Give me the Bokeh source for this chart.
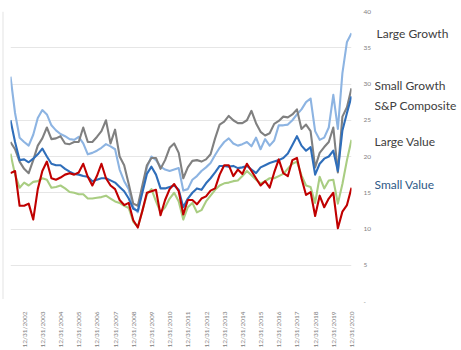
from bokeh.plotting import figure
from bokeh.layouts import row
from bokeh.models import FixedTicker, Range1d, ColumnDataSource
from bokeh.core.properties import value
from bokeh.embed import file_html
from bokeh.resources import INLINE

# quarterly observations, 3/31/2002 .. 12/31/2020
tick_labels = ["12/31/2002", "12/31/2003", "12/31/2004", "12/31/2005", "12/31/2006",
               "12/31/2007", "12/31/2008", "12/31/2009", "12/31/2010", "12/31/2011",
               "12/31/2012", "12/31/2013", "12/31/2014", "12/31/2015", "12/31/2016",
               "12/31/2017", "12/31/2018", "12/31/2019", "12/31/2020"]

large_growth = [31, 26, 22.6, 22, 21.5, 23, 25.3, 26.4, 25.8, 24.3, 23.6, 23.1, 22.8, 22.4, 22.3, 22.7,
                21.8, 20.3, 20.5, 20.8, 21.2, 21.7, 21.4, 21, 18.2, 16.6, 15.5, 13, 12.3, 15.5, 18.5, 20,
                19.5, 18.6, 18.2, 18, 18.2, 18.4, 15.3, 15.5, 16.8, 17.3, 18, 18.5, 19.1, 20.2, 21.2, 22,
                22.5, 21.8, 21.5, 21.7, 22, 21.4, 22.6, 21, 22.4, 21.5, 22.2, 24.3, 24.3, 24.4, 25, 25.8,
                26.5, 27.5, 28, 23.5, 22.3, 22.6, 24, 28.5, 23.8, 31.5, 35.8, 37]

small_growth = [22, 21, 19.3, 18.3, 17.7, 19.5, 21.5, 22.5, 24, 22.4, 22.5, 22.8, 21.8, 21.7, 22, 22,
                24, 22, 22, 22.7, 23.5, 25, 21.8, 23.7, 20, 18.8, 16.2, 13.5, 13.2, 16, 18.8, 19.8,
                19.8, 18.3, 19.5, 21.2, 21.8, 20.5, 17, 18.5, 19.4, 19.5, 19.3, 19.6, 20.3, 22.5, 24.4, 24.8,
                25.6, 25, 24.6, 24.6, 25, 26.3, 24.6, 23.4, 22.9, 23.2, 24.5, 24.9, 25.5, 25.4, 25.8, 26.5,
                23.8, 24.4, 23.5, 18.5, 20.5, 21.3, 22, 24, 17.8, 25.5, 26.8, 29.4]

sp_composite = [25, 22, 19.5, 19.6, 19.2, 19.7, 20.3, 21.1, 20, 19, 18.8, 18.8, 18.3, 17.9, 17.6, 17.5,
                17.3, 17.2, 16.6, 16.8, 17, 17, 16.7, 16.4, 15.8, 15.2, 14.2, 12.8, 12.5, 15, 17.6, 18.6,
                17.5, 15.6, 15.6, 15.8, 16, 15.4, 13, 14.2, 15, 15.6, 15.4, 16.3, 17, 17.8, 18.7, 18.7,
                18.6, 18.7, 18.4, 18.5, 18.7, 18.2, 17.7, 18.5, 18.8, 19.1, 19.3, 19.5, 19.8, 20.4, 21.6, 22.8,
                21.5, 20.8, 21.3, 17.5, 19, 19.7, 20, 20.8, 18, 23.6, 26, 28.3]

large_value = [20.4, 17.5, 15.7, 16.4, 16, 16.5, 16.6, 17, 16.8, 15.7, 15.8, 16, 15.6, 15.1, 15, 14.8,
               14.8, 14.2, 14.2, 14.3, 14.4, 14.6, 14.2, 13.8, 13.6, 13.2, 12.9, 11, 10.3, 12.5, 14.8, 15.5,
               13.8, 12.3, 13, 14.2, 15, 13.8, 11.3, 13, 13.6, 12.3, 12.6, 13.8, 14.6, 15.4, 16, 16.3,
               16.4, 16.6, 16.7, 17.3, 18, 17.4, 16.8, 16.3, 16.6, 17, 17, 17.3, 17.6, 18.3, 19, 19.3,
               17.4, 16, 15.8, 13.6, 17.2, 15.6, 16.7, 16.8, 13.5, 16.2, 19.5, 22.3]

small_value = [17.7, 18, 13.2, 13.2, 13.5, 11.3, 15.5, 18, 19.3, 17, 16.8, 17.1, 17.5, 17.7, 17.5, 17.8,
               19, 17.2, 16, 17.3, 19, 17, 16, 15.5, 14, 13.3, 13.6, 11.2, 10.2, 12.5, 15, 15.2,
               15.4, 11.9, 14, 15.5, 16.2, 15.2, 12, 14, 14, 13.4, 14.2, 14.5, 15.3, 15.6, 17.5, 18.8,
               18.8, 17.3, 18.2, 17.6, 19, 18, 17, 16, 16.6, 15.7, 17.8, 19.6, 17.7, 17.3, 19.5, 19.8,
               17, 14.7, 15.1, 11.8, 14.6, 13, 14.2, 15, 10.1, 12.4, 13.3, 15.7]

series_names = ["Large Growth", "Small Growth", "S&P Composite", "Large Value", "Small Value"]
label_y = [36.9, 29.8, 27.1, 22.1, 16.2]

y_ticks = [0, 5, 10, 15, 20, 25, 30, 35, 40]

n = len(large_growth)
idx = list(range(n))
src = ColumnDataSource(dict(x=idx, lg=large_growth, sg=small_growth, sp=sp_composite,
                            lv=large_value, sv=small_value))

# thin border strip on the left
p0 = figure(width=10, height=350, output_backend="svg", toolbar_location=None,
            x_range=Range1d(0, 10), y_range=Range1d(0, 350),
            min_border_left=0, min_border_right=0, min_border_top=0, min_border_bottom=0)
p0.axis.visible = False
p0.grid.visible = False
p0.outline_line_color = None
p0.segment(x0=[2.5], y0=[3], x1=[2.5], y1=[350], line_color="#e3e3e3", line_width=1)

p = figure(width=364, height=350, output_backend="svg", toolbar_location=None,
           x_range=Range1d(0, n - 1), y_range=Range1d(0, 40),
           y_axis_location="right",
           min_border_left=0, min_border_right=16, min_border_top=11, min_border_bottom=41)
p.outline_line_color = None
p.xgrid.grid_line_color = None
p.ygrid.grid_line_color = "#e6e6e6"
p.ygrid.grid_line_width = 1

yax = p.yaxis[0]
yax.ticker = FixedTicker(ticks=y_ticks)
yax.major_label_overrides = {0: "-"}
yax.axis_line_color = None
yax.major_tick_line_color = None
yax.minor_tick_line_color = None
yax.major_label_text_font = "Lato"
yax.major_label_text_font_size = "6.5px"
yax.major_label_text_color = "#7f7f7f"
yax.major_label_standoff = 6

tick_pos = [3 + 4 * k for k in range(len(tick_labels))]
xax = p.xaxis[0]
xax.ticker = FixedTicker(ticks=tick_pos)
xax.major_label_overrides = {t: l for t, l in zip(tick_pos, tick_labels)}
xax.major_label_orientation = 3.14159265 / 2
xax.axis_line_color = None
xax.major_tick_line_color = None
xax.minor_tick_line_color = None
xax.major_label_text_font = "Lato"
xax.major_label_text_font_size = "6.5px"
xax.major_label_text_color = "#808080"
xax.major_label_standoff = 4

series = [("lg", "#8db4e2"), ("sg", "#808080"), ("sp", "#2f6eba"), ("lv", "#a9cd82"), ("sv", "#c00000")]
for col, color in series:
    p.line("x", col, source=src, line_color=color, line_width=2.1, line_join="round")

# series name labels in a strip on the right, sharing the y scale
p2 = figure(width=87, height=350, output_backend="svg", toolbar_location=None,
            x_range=Range1d(0, 87), y_range=p.y_range,
            min_border_left=0, min_border_right=0, min_border_top=11, min_border_bottom=41)
p2.axis.visible = False
p2.grid.visible = False
p2.outline_line_color = None
label_colors = ["#404040", "#404040", "#404040", "#404040", "#2e5a87"]
lsrc = ColumnDataSource(dict(x=[2, 0, 0, 0, 0], y=label_y, text=series_names, color=label_colors))
p2.text("x", "y", text="text", source=lsrc, text_color="color", text_font=value("Lato"),
        text_font_size="12px", text_baseline="middle", text_align="left")

layout = row(p0, p, p2, spacing=0)
open("out.html", "w").write(file_html(layout, INLINE))
